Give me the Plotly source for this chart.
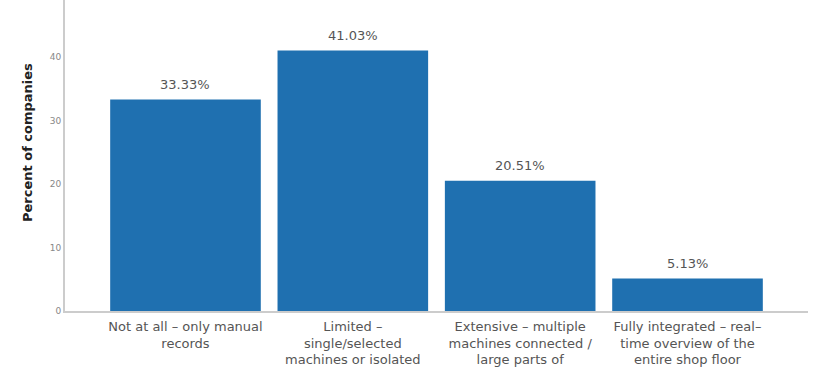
import plotly.graph_objects as go

categories = [
    "Not at all – only manual<br>records",
    "Limited –<br>single/selected<br>machines or isolated<br>processes",
    "Extensive – multiple<br>machines connected /<br>large parts of<br>production",
    "Fully integrated – real–<br>time overview of the<br>entire shop floor",
]
values = [33.33, 41.03, 20.51, 5.13]
value_labels = ["33.33%", "41.03%", "20.51%", "5.13%"]
y_ticks = [0, 10, 20, 30, 40]

x_idx = list(range(len(categories)))
FONT = "DejaVu Sans, Verdana, sans-serif"

fig = go.Figure()
fig.add_trace(go.Bar(
    x=x_idx, y=values, marker=dict(color="#1f70b0", line=dict(width=0)),
    width=0.9, hoverinfo="skip",
))

for xi, v, lab in zip(x_idx, values, value_labels):
    fig.add_annotation(x=xi, y=v, text=lab, showarrow=False, yshift=15,
                       font=dict(family=FONT, size=13, color="#555555"))

fig.add_annotation(xref="paper", yref="paper", x=-38 / 743, y=0.54,
                   xanchor="center", yanchor="middle",
                   text="<b>Percent of companies</b>", textangle=-90, showarrow=False,
                   font=dict(family=FONT, size=13, color="#222222"))

fig.update_layout(
    width=820, height=368,
    margin=dict(l=65, r=12, t=0, b=57, autoexpand=False),
    plot_bgcolor="white", paper_bgcolor="white",
    showlegend=False,
    xaxis=dict(
        range=[-0.72, 3.72], tickmode="array", tickvals=x_idx, ticktext=categories,
        showgrid=False, zeroline=False, showline=True, linecolor="#cccccc", linewidth=2,
        ticks="", tickfont=dict(family=FONT, size=13, color="#555555"),
        automargin=False, tickangle=0, ticklabelstandoff=2,
    ),
    yaxis=dict(
        range=[0, 49], tickmode="array", tickvals=y_ticks,
        showgrid=False, zeroline=False, showline=True, linecolor="#cccccc", linewidth=2,
        ticks="", tickfont=dict(family=FONT, size=9, color="#888888"),
        automargin=False,
    ),
)

fig.write_html("out.html", config={"displayModeBar": False},
               post_script="document.body.style.margin='0px';")
